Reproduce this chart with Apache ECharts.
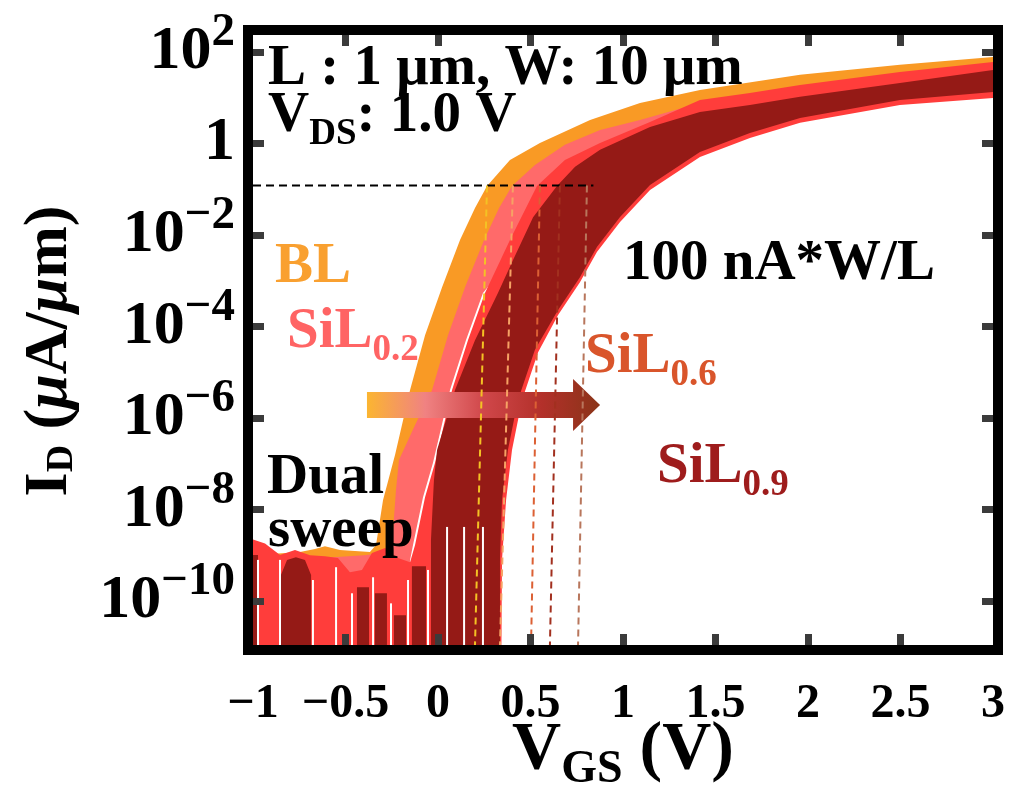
<!DOCTYPE html>
<html><head><meta charset="utf-8">
<script src="https://cdn.jsdelivr.net/npm/echarts@6/dist/echarts.min.js"></script>
<style>html,body{margin:0;padding:0;background:#fff}#c{width:1030px;height:789px}</style>
</head><body><div id="c"></div>
<script>
// ---------- data (x: V_GS in V, y: log10 of I_D in uA/um) ----------
const xMin = -1, xMax = 3;
const xTickMarks = [-0.5, 0, 0.5, 1, 1.5, 2, 2.5];
const yTickExp = [-10, -8, -6, -4, -2, 0, 2];
const yMinExp = -10.96, yMaxExp = 2.37;
const thresholdExp = -0.92;          // 100 nA*W/L level
const thresholdLineEnd = 0.84;

// band outlines: upper edge left->right, then lower edge right->left
const bandBL = [
 [-1.0,-9.0],[-0.746,-8.93],[-0.665,-8.86],[-0.611,-8.80],[-0.530,-8.885],[-0.368,-8.93],[-0.335,-8.775],
 [-0.297,-7.79],[-0.232,-6.80],[-0.151,-5.39],[-0.070,-4.19],[0.022,-3.14],[0.119,-2.11],[0.2,-1.41],[0.265,-0.93],
 [0.389,-0.36],[0.551,0.01],[0.822,0.51],[1.092,0.885],[1.416,1.17],[1.957,1.50],[2.497,1.72],[3.0,1.89],
 [3.0,1.6],[2.0,1.1],[1.0,0.1],[0.6,-0.7],[0.45,-2.0],
 [0.238,-3.27],[0.146,-4.30],[0.06,-5.39],[-0.032,-6.98],[-0.086,-7.73],[-0.14,-8.775],[-0.156,-9.10],[-0.183,-10.96],[-0.183,-12],[-1.0,-12]
];
const bandSiL02 = [
 [-1.0,-9.10],[-0.746,-9.04],[-0.568,-9.04],[-0.40,-9.0],[-0.259,-8.93],[-0.243,-8.45],[-0.227,-7.57],[-0.211,-6.92],
 [-0.124,-6.15],[-0.032,-5.39],[0.054,-4.19],[0.146,-3.14],[0.249,-2.11],[0.330,-1.41],[0.4,-0.93],[0.524,-0.47],
 [0.686,-0.03],[0.876,0.295],[1.092,0.514],[1.416,0.885],[1.957,1.257],[2.497,1.519],[3.0,1.738],
 [3.0,1.3],[2.0,0.7],[1.2,-0.2],[0.8,-1.0],[0.5,-2.0],
 [0.243,-3.27],[0.151,-4.30],[0.065,-5.39],[-0.027,-6.98],[-0.081,-7.73],[-0.135,-8.775],[-0.151,-9.10],[-0.178,-10.96],[-0.178,-12],[-1.0,-12]
];
const bandSiL06 = [
 [-1.0,-8.655],[-0.935,-8.74],[-0.854,-8.995],[-0.773,-8.885],[-0.692,-9.0],[-0.611,-9.02],[-0.541,-9.06],[-0.476,-9.37],
 [-0.411,-9.32],[-0.357,-8.95],[-0.286,-8.84],[-0.216,-9.06],[-0.151,-9.15],
 [-0.124,-8.775],[-0.070,-7.73],[-0.016,-6.98],[0.076,-5.39],[0.162,-4.30],[0.254,-3.27],[0.389,-2.11],[0.535,-0.93],
 [0.686,-0.36],[0.876,0.01],[1.146,0.47],[1.416,0.95],[1.686,1.10],[1.957,1.28],[2.497,1.56],[3.0,1.78],
 [3.0,0.995],[2.497,0.84],[1.957,0.45],[1.686,0.12],[1.416,-0.295],[1.146,-1.016],[0.984,-1.716],[0.859,-2.37],
 [0.768,-3.03],[0.649,-3.75],[0.541,-4.56],[0.454,-5.61],[0.4,-6.70],[0.368,-7.79],[0.346,-9.10],[0.341,-12],[-1.0,-12]
];
const bandSiL09 = [
 [-1.0,-8.995],[-0.973,-8.995],[-0.973,-12],[-0.849,-12],[-0.849,-9.43],[-0.816,-9.10],[-0.768,-9.04],[-0.719,-9.10],
 [-0.686,-9.43],[-0.686,-12],[-0.438,-12],[-0.438,-9.70],[-0.373,-9.70],[-0.373,-12],[-0.341,-12],[-0.341,-9.83],
 [-0.276,-9.83],[-0.276,-12],[-0.238,-12],[-0.238,-10.31],[-0.173,-10.31],[-0.173,-12],[-0.141,-12],[-0.141,-9.24],
 [-0.065,-9.24],[-0.065,-12],[-0.038,-12],[-0.038,-8.665],[-0.022,-7.36],[-0.005,-6.70],[0.092,-5.39],[0.2,-4.30],
 [0.324,-3.27],[0.405,-2.55],[0.514,-1.61],[0.643,-0.93],[0.741,-0.51],[0.876,-0.14],[1.146,0.36],[1.416,0.69],
 [1.686,0.84],[1.957,1.02],[2.497,1.32],[3.0,1.607],
 [3.0,1.126],[2.497,0.95],[1.957,0.557],[1.686,0.23],[1.416,-0.186],[1.146,-0.907],[0.984,-1.607],[0.859,-2.26],
 [0.768,-2.92],[0.649,-3.64],[0.524,-4.51],[0.432,-5.61],[0.378,-6.70],[0.346,-7.79],[0.335,-9.10],[0.335,-12],[-1.0,-12]
];
// voltages where the dual-sweep current drops out (white gaps) and the gap tops
const offGapV   = [-0.973,-0.854,-0.676,-0.551,-0.465,-0.351,-0.254,-0.162,-0.054,0.049,0.141,0.243];
const offGapTop = [-9.10,-9.10,-9.54,-9.26,-9.83,-9.48,-10.05,-9.54,-9.32,-8.38,-8.38,-8.38];
// V_th read-out lines at the 100 nA*W/L level (top at threshold, bottom at axis floor)
const vthTopV    = [0.265, 0.405, 0.551, 0.659, 0.805];
const vthBottomV = [0.200, 0.335, 0.503, 0.605, 0.757];
const vthColors  = ['#F4C224','#F6A264','#DC6034','#A2301F','#B8765C'];
// shift arrow
const arrowStart = [-0.384, -5.716];
const arrowEnd   = [0.876, -5.716];

// ---------- chart ----------
const SERIF = '"Liberation Serif","Times New Roman",serif';
const bandColors = { BL:'#F99A25', S02:'#FF6A6A', S06:'#FF3D3B', S09:'#951A16' };

function polySeries(name, pts, color){
  return {
    type:'custom', name, xAxisIndex:0, yAxisIndex:0, clip:true, silent:true,
    data: pts, encode:{x:0, y:1},
    renderItem(params, api){
      if (params.dataIndex !== 0) return null;
      return { type:'polygon', shape:{ points: pts.map(p => api.coord(p)) }, style:{ fill: color } };
    }
  };
}

const series = [
  polySeries('BL', bandBL, bandColors.BL),
  polySeries('SiL0.2', bandSiL02, bandColors.S02),
  polySeries('SiL0.6', bandSiL06, bandColors.S06),
  polySeries('SiL0.9', bandSiL09, bandColors.S09),
  {
    type:'custom', name:'gaps', clip:true, silent:true,
    data: offGapV.map((v,i)=>[v, offGapTop[i]]), encode:{x:0,y:1},
    renderItem(params, api){
      const p0 = api.coord([api.value(0), api.value(1)]);
      const p1 = api.coord([api.value(0), yMinExp]);
      return { type:'line', shape:{x1:p0[0], y1:p0[1], x2:p1[0], y2:p1[1]}, style:{stroke:'#fff', lineWidth:2} };
    }
  },
  {
    type:'line', name:'threshold', data:[[xMin, thresholdExp],[thresholdLineEnd, thresholdExp]],
    symbol:'none', silent:true, lineStyle:{color:'#000', width:2, type:[8,5]}
  }
];
vthTopV.forEach((v,i)=>{
  series.push({
    type:'line', name:'vth'+i, data:[[v, thresholdExp],[vthBottomV[i], yMinExp]],
    symbol:'none', silent:true, lineStyle:{color:vthColors[i], width:2, type:[7,5]}
  });
});
series.push({
  type:'custom', name:'arrow', clip:false, silent:true,
  data:[[arrowStart[0], arrowStart[1], arrowEnd[0]]], encode:{x:0,y:1},
  renderItem(params, api){
    const p0 = api.coord([api.value(0), api.value(1)]);
    const p1 = api.coord([api.value(2), api.value(1)]);
    const bh = 13, hh = 26, hl = 27, y = p0[1];
    const pts = [[p0[0], y-bh],[p1[0]-hl, y-bh],[p1[0]-hl, y-hh],[p1[0], y],[p1[0]-hl, y+hh],[p1[0]-hl, y+bh],[p0[0], y+bh]];
    return { type:'polygon', shape:{points:pts}, style:{
      fill: new echarts.graphic.LinearGradient(0,0,1,0,[
        {offset:0, color:'#FBB531'},{offset:0.25, color:'#F08282'},{offset:0.5, color:'#D0474A'},
        {offset:0.75, color:'#B3302A'},{offset:1, color:'#8A3418'}])
    }};
  }
});

const tickStyle = { inside:true, length:11, lineStyle:{ color:'#3b3b3b', width:7 } };
const lbl = { fontFamily:SERIF, fontWeight:'bold', color:'#000' };

function frameAxis(pos){
  return { gridIndex:1, type:'value', min:0, max:1, position:pos, z:20,
    axisLine:{ show:true, onZero:false, lineStyle:{ color:'#000', width:10, cap:'square' } },
    axisTick:{show:false}, axisLabel:{show:false}, splitLine:{show:false} };
}

const option = {
  animation:false,
  backgroundColor:'#fff',
  grid:[
    { left:253, right:37, top:35, bottom:144, containLabel:false, outerBoundsMode:'none' },
    { left:248, right:32.5, top:30, bottom:139, containLabel:false, outerBoundsMode:'none' }
  ],
  xAxis:[
    { type:'value', min:xMin, max:xMax, interval:0.5, position:'bottom', z:10,
      axisLine:{show:false, onZero:false}, splitLine:{show:false},
      axisTick:Object.assign({customValues:xTickMarks}, tickStyle),
      axisLabel:Object.assign({ margin:36, fontSize:48, formatter:v => (v<0?'\u2212':'') + Math.abs(v) }, lbl),
      name:'{m|V}{s|GS}{m| (V)}', nameLocation:'middle', nameGap:62, nameMoveOverlap:false,
      nameTextStyle:{ rich:{ m:Object.assign({fontSize:68, lineHeight:86}, lbl), s:Object.assign({fontSize:46, verticalAlign:'bottom'}, lbl) } } },
    { type:'value', min:xMin, max:xMax, interval:0.5, position:'top', z:10,
      axisLine:{show:false, onZero:false}, splitLine:{show:false},
      axisTick:Object.assign({customValues:xTickMarks}, tickStyle), axisLabel:{show:false} },
    frameAxis('bottom'), frameAxis('top')
  ],
  yAxis:[
    { type:'value', min:yMinExp, max:yMaxExp, position:'left', z:10,
      axisLine:{show:false, onZero:false}, splitLine:{show:false},
      axisTick:Object.assign({customValues:yTickExp}, tickStyle),
      axisLabel:{ customValues:yTickExp, margin:18,
        formatter:v => v === 0 ? '{b|1}' : '{b|10}{s|' + (v<0?'\u2212':'') + Math.abs(v) + '}',
        rich:{ b:Object.assign({fontSize:62, lineHeight:85}, lbl), s:Object.assign({fontSize:47, verticalAlign:'top'}, lbl) } },
      name:'{m|I}{s|D}{m| (}{i|\u03bc}{m|A/}{i|\u03bc}{m|m)}', nameLocation:'middle', nameRotate:90, nameGap:172, nameMoveOverlap:false,
      nameTextStyle:{ padding:[0,22,0,0], rich:{ m:Object.assign({fontSize:62}, lbl), i:Object.assign({fontSize:62, fontStyle:'italic'}, lbl),
        s:Object.assign({fontSize:38, verticalAlign:'bottom'}, lbl) } } },
    { type:'value', min:yMinExp, max:yMaxExp, position:'right', z:10,
      axisLine:{show:false, onZero:false}, splitLine:{show:false},
      axisTick:Object.assign({customValues:yTickExp}, tickStyle), axisLabel:{show:false} },
    frameAxis('left'), frameAxis('right')
  ],
  series,
  graphic:[]
};

function txt(x, y, text, color, rich){
  return { type:'text', x, y, z:100, silent:true,
    style:{ text, fill:color, font:'bold 57px ' + SERIF, textAlign:'left', textVerticalAlign:'middle', align:'left', verticalAlign:'middle', rich } };
}
const subRich = c => ({ a:{fontSize:57, lineHeight:73, fontWeight:'bold', fontFamily:SERIF, fill:c, color:c},
                        b:{fontSize:37, fontWeight:'bold', fontFamily:SERIF, fill:c, color:c, verticalAlign:'bottom'} });
option.graphic = [
  txt(268, 69, 'L : 1 \u03bcm, W: 10 \u03bcm', '#000'),
  txt(268, 116, '{a|V}{b|DS}{a|: 1.0 V}', '#000', subRich('#000')),
  txt(275, 267, 'BL', '#F9A030'),
  txt(287, 332, '{a|SiL}{b|0.2}', '#FF6464', subRich('#FF6464')),
  txt(585, 357, '{a|SiL}{b|0.6}', '#D9552B', subRich('#D9552B')),
  txt(657, 467, '{a|SiL}{b|0.9}', '#9E1C1C', subRich('#9E1C1C')),
  txt(623, 264, '100 nA*W/L', '#000'),
  txt(267, 478, 'Dual', '#000'),
  txt(268, 531, 'sweep', '#000')
];

const chart = echarts.init(document.getElementById('c'));
chart.setOption(option);
</script>
</body></html>
